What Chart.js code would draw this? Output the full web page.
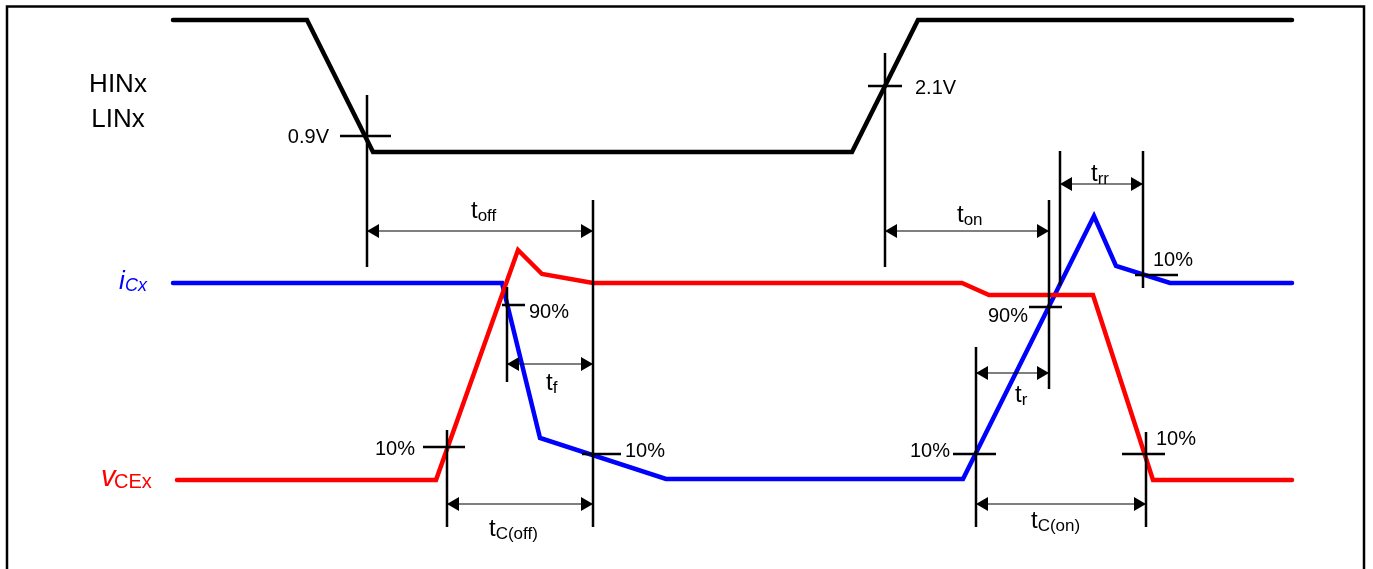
<!DOCTYPE html>
<html>
<head>
<meta charset="utf-8">
<script src="https://cdn.jsdelivr.net/npm/chart.js@4/dist/chart.umd.min.js"></script>
<style>
  html, body { margin: 0; padding: 0; background: #fff; }
  canvas { display: block; }
</style>
</head>
<body>
<canvas id="timing" width="1373" height="569"></canvas>
<script>
// signal waveforms (x = time position, y = level position, in diagram units)
const hinX = [173, 307, 373, 852, 918, 1292];
const hinY = [20, 20, 152, 152, 20, 20];
const icX = [173, 502, 540, 666, 963, 1094, 1116, 1170, 1292];
const icY = [283, 283, 438, 479, 479, 216, 266, 283, 283];
const vceX = [177, 436, 518, 542, 593, 962, 989, 1093, 1153, 1292];
const vceY = [480, 480, 250, 274, 283, 283, 295, 295, 480, 480];

// measurement markers: vertical lines [x, yTop, yBottom]
const markerLines = [
    [367, 95, 267], [593, 200, 527], [507, 287, 382], [447, 430, 527],
    [885, 53, 267], [1049, 200, 389], [1060, 151, 286], [1143, 151, 288],
    [976, 347, 527], [1146, 432, 527]
];
// crosshair ticks [y, xLeft, xRight]
const crossTicks = [
    [136, 340, 391], [86, 868, 902], [305, 502, 525], [447, 423, 465],
    [454, 582, 621], [307, 1029, 1062], [275, 1135, 1178], [454, 953, 996],
    [454, 1122, 1165]
];
// timing arrows [y, xFrom, xTo]
const arrows = [
    [231, 367, 593], [364, 507, 593], [504, 447, 593],
    [231, 885, 1049], [184, 1060, 1143], [373, 976, 1049], [504, 976, 1146]
];

// text labels
const labels = [
    { x: 118, y: 92, text: 'HINx', align: 'center', size: 26 },
    { x: 118, y: 127, text: 'LINx', align: 'center', size: 26 },
    { x: 329, y: 143, text: '0.9V', align: 'right', size: 20 },
    { x: 915, y: 94, text: '2.1V', align: 'left', size: 20 },
    { x: 529, y: 318, text: '90%', align: 'left', size: 20 },
    { x: 415, y: 455, text: '10%', align: 'right', size: 20 },
    { x: 625, y: 457, text: '10%', align: 'left', size: 20 },
    { x: 1028, y: 322, text: '90%', align: 'right', size: 20 },
    { x: 950, y: 457, text: '10%', align: 'right', size: 20 },
    { x: 1156, y: 445, text: '10%', align: 'left', size: 20 },
    { x: 1153, y: 266, text: '10%', align: 'left', size: 20 }
];
const timeLabels = [
    { x: 471, y: 218, sub: 'off' },
    { x: 546, y: 390, sub: 'f' },
    { x: 489, y: 536, sub: 'C(off)' },
    { x: 957, y: 222, sub: 'on' },
    { x: 1091, y: 181, sub: 'rr' },
    { x: 1015, y: 402, sub: 'r' },
    { x: 1031, y: 528, sub: 'C(on)' }
];

function xy(xs, ys) {
    return xs.map((x, i) => ({ x: x, y: ys[i] }));
}

function segments(list, vertical) {
    const pts = [];
    list.forEach(s => {
        if (vertical) {
            pts.push({ x: s[0], y: s[1] }, { x: s[0], y: s[2] });
        } else {
            pts.push({ x: s[1], y: s[0] }, { x: s[2], y: s[0] });
        }
        pts.push({ x: vertical ? s[0] : s[2], y: null });
    });
    return pts;
}

const FONT = '"Liberation Sans", Arial, sans-serif';

const overlay = {
    id: 'overlay',
    afterDatasetsDraw(chart) {
        const ctx = chart.ctx;
        const xs = chart.scales.x, ys = chart.scales.y;
        ctx.save();
        // arrow heads
        ctx.fillStyle = '#000';
        arrows.forEach(a => {
            const y = ys.getPixelForValue(a[0]);
            const x1 = xs.getPixelForValue(a[1]);
            const x2 = xs.getPixelForValue(a[2]);
            [[x1, 1], [x2, -1]].forEach(([tip, dir]) => {
                ctx.beginPath();
                ctx.moveTo(tip, y);
                ctx.lineTo(tip + dir * 12, y - 7);
                ctx.lineTo(tip + dir * 12, y + 7);
                ctx.closePath();
                ctx.fill();
            });
        });

        // plain labels
        ctx.textBaseline = 'alphabetic';
        labels.forEach(l => {
            ctx.font = l.size + 'px ' + FONT;
            ctx.textAlign = l.align;
            ctx.fillText(l.text, xs.getPixelForValue(l.x), ys.getPixelForValue(l.y));
        });

        // t labels with subscripts
        ctx.textAlign = 'left';
        timeLabels.forEach(l => {
            const x = xs.getPixelForValue(l.x), y = ys.getPixelForValue(l.y);
            ctx.font = '24px ' + FONT;
            ctx.fillText('t', x, y);
            const w = ctx.measureText('t').width;
            ctx.font = '17px ' + FONT;
            ctx.fillText(l.sub, x + w, y + 3);
        });

        // signal names
        ctx.fillStyle = '#0000ff';
        ctx.font = 'italic 26px ' + FONT;
        ctx.fillText('i', xs.getPixelForValue(119), ys.getPixelForValue(289));
        ctx.font = 'italic 18px ' + FONT;
        ctx.fillText('Cx', xs.getPixelForValue(125), ys.getPixelForValue(291));

        ctx.fillStyle = '#ff0000';
        ctx.font = 'italic 29px ' + FONT;
        ctx.fillText('v', xs.getPixelForValue(101), ys.getPixelForValue(486));
        ctx.font = '20px ' + FONT;
        ctx.fillText('CEx', xs.getPixelForValue(114), ys.getPixelForValue(488));
        ctx.restore();
    }
};

const line = (data, color, width, cap) => ({
    data: data,
    showLine: true,
    borderColor: color,
    borderWidth: width,
    borderCapStyle: cap || 'butt',
    borderJoinStyle: 'miter',
    pointRadius: 0,
    spanGaps: false
});

new Chart(document.getElementById('timing'), {
    type: 'scatter',
    data: {
        datasets: [
            line([{ x: 7, y: 600 }, { x: 7, y: 6.5 }, { x: 1364, y: 6.5 }, { x: 1364, y: 600 }], '#000', 2.5),
            line(segments(markerLines, true), '#000', 2.5),
            line(segments(crossTicks, false), '#000', 2.5),
            line(segments(arrows, false), '#000', 1.2),
            line(xy(hinX, hinY), '#000', 4.5, 'round'),
            line(xy(vceX, vceY), '#ff0000', 4.5, 'round'),
            line(xy(icX, icY), '#0000ff', 4.5, 'round')
        ]
    },
    options: {
        responsive: false,
        animation: false,
        devicePixelRatio: 1,
        layout: { padding: 0 },
        scales: {
            x: { type: 'linear', min: 0, max: 1373, display: false },
            y: { type: 'linear', min: 0, max: 569, reverse: true, display: false }
        },
        plugins: {
            legend: { display: false },
            tooltip: { enabled: false }
        }
    },
    plugins: [overlay]
});
</script>
</body>
</html>
